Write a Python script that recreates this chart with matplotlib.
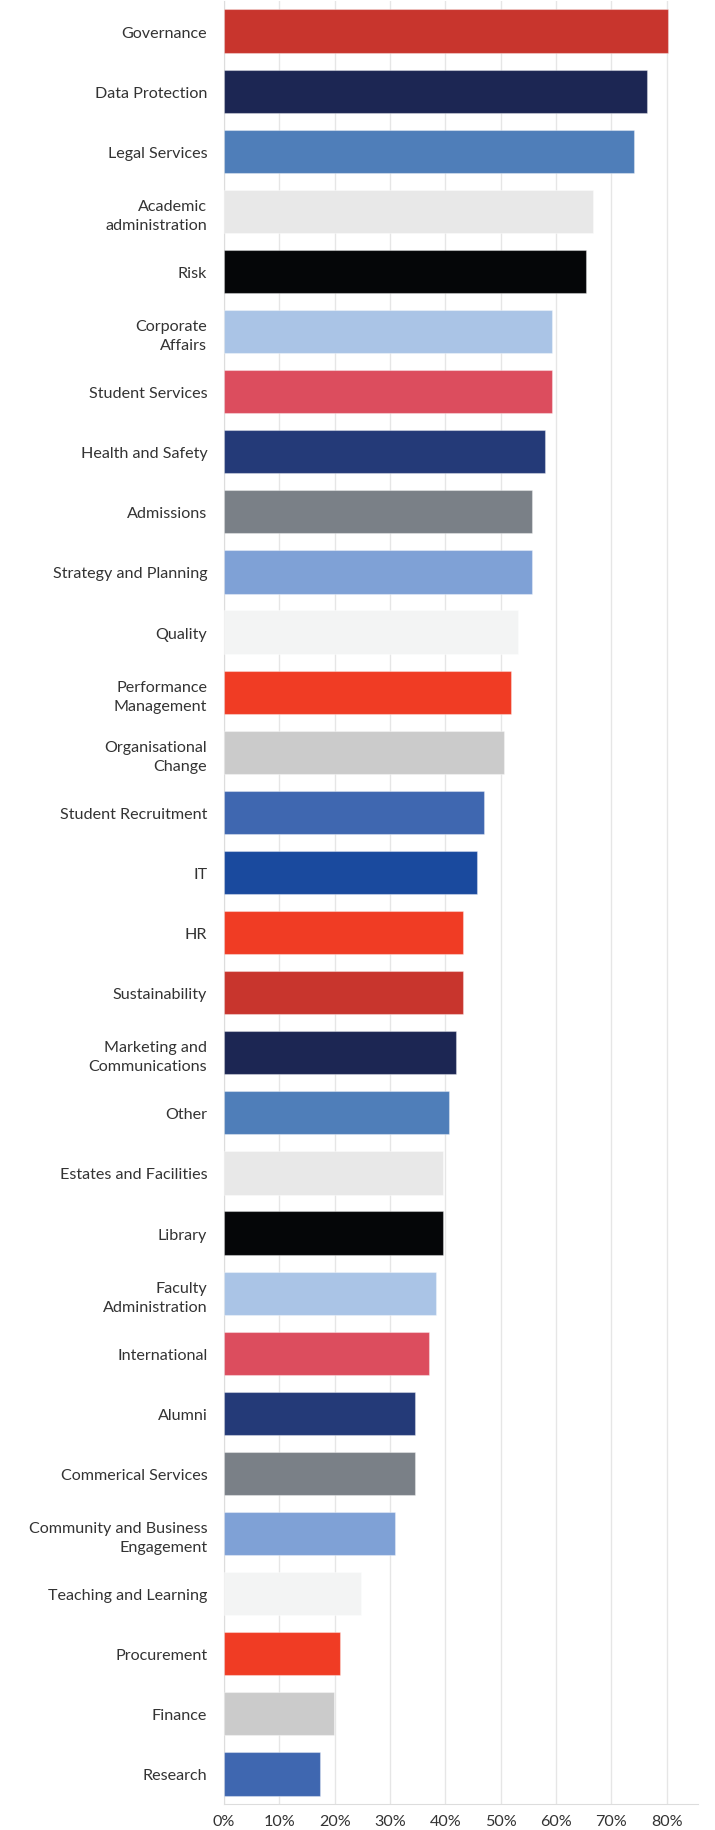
import matplotlib.pyplot as plt
from matplotlib.ticker import FixedLocator

# Share of respondents per area, highest first
areas = [
    "Governance", "Data Protection", "Legal Services", "Academic\nadministration",
    "Risk", "Corporate\nAffairs", "Student Services", "Health and Safety",
    "Admissions", "Strategy and Planning", "Quality", "Performance\nManagement",
    "Organisational\nChange", "Student Recruitment", "IT", "HR", "Sustainability",
    "Marketing and\nCommunications", "Other", "Estates and Facilities", "Library",
    "Faculty\nAdministration", "International", "Alumni", "Commerical Services",
    "Community and Business\nEngagement", "Teaching and Learning", "Procurement",
    "Finance", "Research",
]
percent = [
    80.2, 76.5, 74.1, 66.7, 65.4, 59.3, 59.3, 58.0, 55.6, 55.6,
    53.1, 51.9, 50.6, 46.9, 45.7, 43.2, 43.2, 42.0, 40.7, 39.5,
    39.5, 38.3, 37.0, 34.6, 34.6, 30.9, 24.7, 21.0, 19.8, 17.3,
]
palette = [
    "#C8352D", "#1C2653", "#4F7EB9", "#E8E8E8", "#050608", "#AAC4E6",
    "#DC4D5E", "#243A78", "#7A8087", "#7FA1D6", "#F3F4F4", "#F03C24",
    "#CBCBCB", "#3F67B0", "#1A4A9E", "#F03C24",
]
tick_values = [0, 10, 20, 30, 40, 50, 60, 70, 80]

plt.rcParams['font.family'] = ['Lato', 'DejaVu Sans']

fig = plt.figure(figsize=(7.15, 18.31), dpi=100)
ax = fig.add_axes([0.3133, 0.0142, 0.6625, 0.9847])

colors = [palette[i % len(palette)] for i in range(len(areas))]
ypos = list(range(len(areas)))
ax.barh(ypos, percent, height=0.72, color=colors,
        edgecolor=(1, 1, 1, 0.35), linewidth=0.8, zorder=3)

ax.set_ylim(len(areas) - 0.5, -0.5)
ax.set_xlim(0, 85.6)
ax.set_yticks(ypos)
ax.set_yticklabels(areas, fontsize=11.6, color="#333333", linespacing=1.45)
ax.xaxis.set_major_locator(FixedLocator(tick_values))
ax.set_xticklabels([f"{v}%" for v in tick_values], fontsize=11.6, color="#333333")
ax.tick_params(axis='y', length=0, pad=12)
ax.tick_params(axis='x', length=0, pad=7)

ax.grid(axis='x', color="#E6E6E6", linewidth=1, zorder=0)
for side in ['top', 'right']:
    ax.spines[side].set_visible(False)
ax.spines['left'].set_color("#DDDDDD")
ax.spines['bottom'].set_color("#DDDDDD")

fig.savefig("out.png", dpi=100)
